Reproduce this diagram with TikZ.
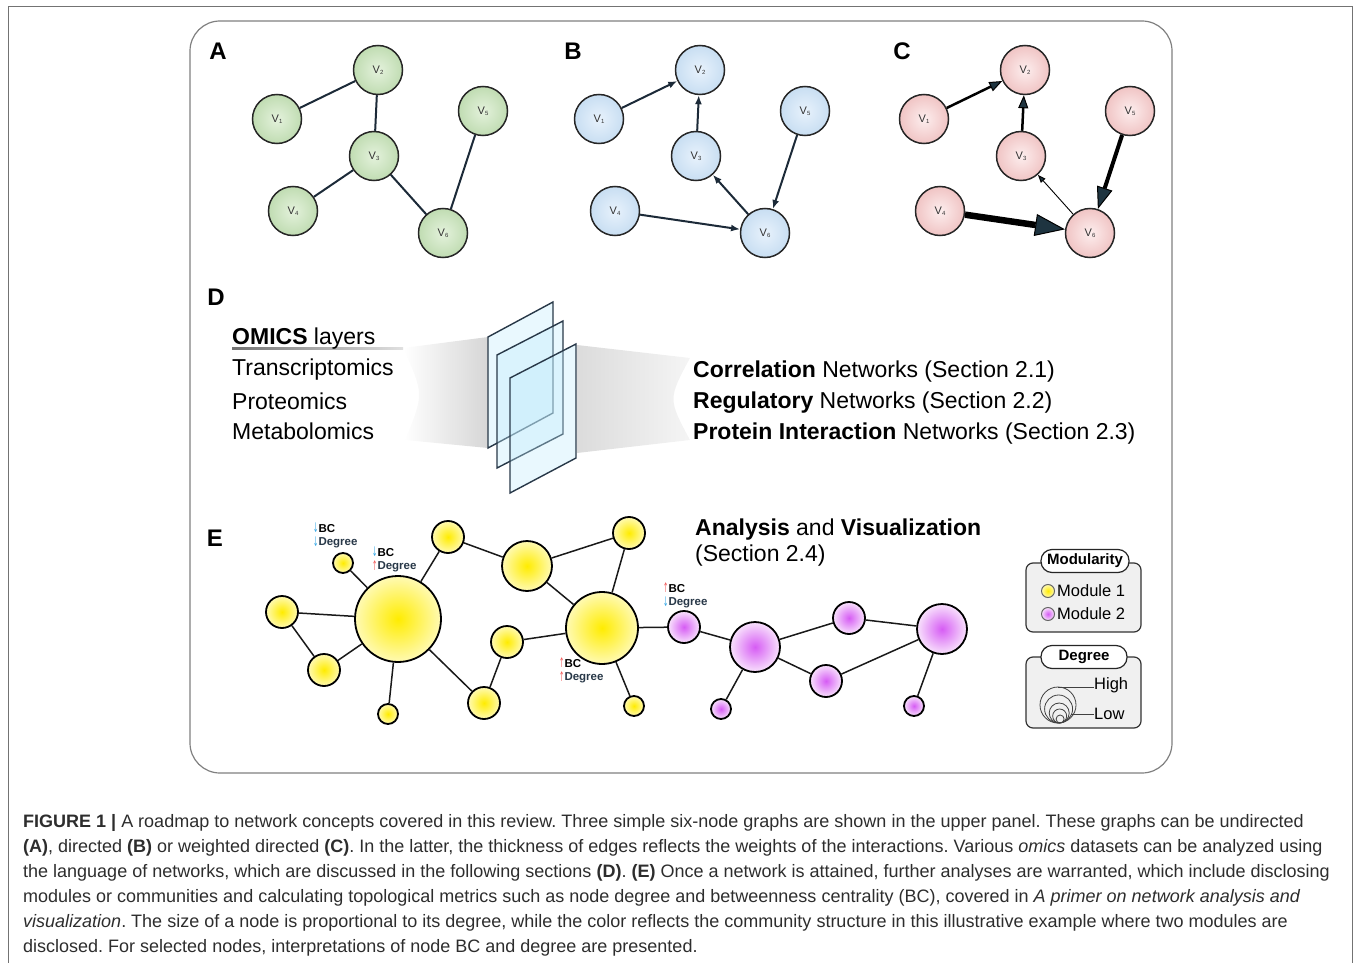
\documentclass[tikz,border=0pt]{standalone}
\usepackage{fontspec}
\setmainfont{Liberation Sans}
\newfontfamily\arrowfont{DejaVu Sans}
\usepackage{xcolor}
\usetikzlibrary{arrows.meta}
\frenchspacing

\definecolor{grnin}{RGB}{228,242,220}
\definecolor{grnout}{RGB}{192,220,178}
\definecolor{bluin}{RGB}{232,242,252}
\definecolor{bluout}{RGB}{200,222,242}
\definecolor{redin}{RGB}{253,238,238}
\definecolor{redout}{RGB}{240,196,196}
\definecolor{yelin}{RGB}{255,236,0}
\definecolor{yelout}{RGB}{255,250,180}
\definecolor{purin}{RGB}{214,92,244}
\definecolor{purout}{RGB}{248,226,252}
\definecolor{edgec}{RGB}{28,42,56}
\definecolor{headc}{RGB}{30,52,64}
\definecolor{slate}{RGB}{40,56,72}
\definecolor{bcred}{RGB}{240,90,90}
\definecolor{bcblue}{RGB}{60,170,230}
\definecolor{capc}{RGB}{45,45,45}

\newcommand{\vlab}[1]{V{\fontsize{6}{6}\selectfont\raisebox{-1.5pt}{#1}}}
\newcommand{\uparr}{\textcolor{bcred}{\raisebox{-0.5pt}{\scalebox{0.55}[1.15]{\arrowfont\mdseries\char"2191}}}}
\newcommand{\dnarr}{\textcolor{bcblue}{\raisebox{-0.5pt}{\scalebox{0.55}[1.15]{\arrowfont\mdseries\char"2193}}}}

\tikzset{
	plabel/.style={font=\fontsize{24}{24}\selectfont\bfseries, inner sep=0pt},
	vnode/.style={circle, draw=black!85, line width=1.5pt, minimum size=49pt, inner sep=0pt, shading=radial, text=black!80, font=\fontsize{11}{11}\selectfont},
	uedge/.style={draw=edgec, line width=2pt},
	dedge/.style={draw=edgec, line width=2pt, -{Latex[length=9pt,width=7pt]}},
	wtip/.style 2 args={draw=black, -{Triangle[length=#1,width=#2,line width=1pt,fill=headc]}},
	bignode/.style={circle, draw=black, line width=1.8pt, inner sep=0pt, shading=radial, minimum size=#1},
	ynode/.style={bignode=#1, inner color=yelin, outer color=yelout},
	pnode/.style={bignode=#1, inner color=purin, outer color=purout},
	eedge/.style={draw=black!90, line width=1.5pt},
	bclabel/.style={align=left, inner sep=0pt, anchor=north west, font=\fontsize{11.5}{13.5}\selectfont\bfseries},
	omics/.style={anchor=west, inner sep=0pt, font=\fontsize{23}{23}\selectfont},
	plane/.style={draw=slate, line width=1.4pt, fill=cyan!25, fill opacity=0.35},
	legbox/.style={draw=black!80, line width=1.2pt, fill=black!6, rounded corners=7pt},
	pill/.style={draw=black!85, line width=1.2pt, fill=white, rounded corners=11pt, minimum height=23pt, inner sep=0pt, font=\fontsize{15}{15}\selectfont\bfseries},
	legtext/.style={anchor=west, inner sep=0pt, font=\fontsize{16.5}{16.5}\selectfont},
	captext/.style={anchor=base west, inner sep=0pt, text=capc, font=\fontsize{18}{18}\selectfont}
}

\begin{document}
\begin{tikzpicture}[x=1pt, y=-1pt]
	\useasboundingbox (0,0) rectangle (1355,963);
	\draw[black!55, line width=1pt] (8,963) -- (8,7) -- (1352,7) -- (1352,963);
	\draw[black!50, line width=1.2pt, rounded corners=30pt] (190,21) rectangle (1172,773);

	% graphs A, B, C
	\node[plabel] (la) at (218,51) {A};
	\node[plabel] (lb) at (573,51) {B};
	\node[plabel] (lc) at (902,51) {C};
	\foreach \p/\dx/\cin/\cout in {a/0/grnin/grnout, b/322/bluin/bluout, c/647/redin/redout}{
		\foreach \i/\x/\y in {1/277/119, 2/378/70, 3/374/156, 4/293/211, 5/483/111, 6/443/233}
			\node[vnode, inner color=\cin, outer color=\cout] (\p\i) at (\x+\dx,\y) {\vlab{\i}};
	}
	\foreach \s/\t in {1/2, 2/3, 3/4, 3/6, 5/6}
		\draw[uedge] (a\s) -- (a\t);
	\foreach \s/\t in {1/2, 3/2, 6/3, 5/6, 4/6}
		\draw[dedge] (b\s) -- (b\t);
	\draw[wtip={13pt}{10pt}, line width=2.5pt] (c1) -- (c2);
	\draw[wtip={13pt}{10pt}, line width=2.5pt] (c3) -- (c2);
	\draw[wtip={8pt}{6pt}, line width=0.9pt] (c6) -- (c3);
	\draw[wtip={22pt}{16pt}, line width=4pt] (c5) -- (c6);
	\draw[wtip={30pt}{22pt}, line width=6.5pt] (c4) -- (c6);

	% D
	\node[plabel] (ld) at (216,297) {D};
	\shade[left color=white, right color=black!16] (403,348) -- (488,337) -- (488,448) -- (405,440) .. controls (424,394) .. (403,348) -- cycle;
	\shade[left color=black!14, right color=black!4] (577,345) -- (690,358) .. controls (668,399) .. (690,440) -- (577,453) -- cycle;
	\shade[left color=black!55, right color=black!12] (232,347.5) rectangle (403,349);
	\filldraw[plane] (488,337) -- (553,302) -- (553,413) -- (488,448) -- cycle;
	\filldraw[plane] (497,355) -- (563,321) -- (563,434) -- (497,468) -- cycle;
	\filldraw[plane] (510,378) -- (576,344) -- (576,458) -- (510,493) -- cycle;
	\node[omics] (om1) at (232,339) {\textbf{OMICS} layers};
	\node[omics] (om2) at (232,370) {Transcriptomics};
	\node[omics] (om3) at (232,401) {Proteomics};
	\node[omics] (om4) at (232,431) {Metabolomics};
	\node[omics] (nw1) at (693,372) {\textbf{Correlation} Networks (Section 2.1)};
	\node[omics] (nw2) at (693,403) {\textbf{Regulatory} Networks (Section 2.2)};
	\node[omics] (nw3) at (693,434) {\textbf{Protein Interaction} Networks (Section 2.3)};

	% E
	\node[plabel] (le) at (215,538) {E};
	\node[omics, anchor=north west, align=left, font=\fontsize{23}{26}\selectfont] (anv) at (695,519) {\textbf{Analysis} and \textbf{Visualization}\\(Section 2.4)};
	\foreach \n/\x/\y/\d in {y1/398/619/86, y2/602/628/72, y3/343/563/20, y4/282/612/32, y5/324/670/32, y6/388/714/20,
		y7/448/537/32, y8/527/566/50, y9/629/533/32, y10/507/642/32, y11/484/703/32, y12/634/706/20}
		\node[ynode=\d] (\n) at (\x,\y) {};
	\foreach \n/\x/\y/\d in {p1/684/627/32, p2/755/647/50, p3/849/618/32, p4/942/629/50, p5/826/681/32, p6/721/709/20, p7/914/706/20}
		\node[pnode=\d] (\n) at (\x,\y) {};
	\foreach \s/\t in {y3/y1, y4/y1, y4/y5, y5/y1, y6/y1, y1/y7, y1/y11, y7/y8, y8/y9, y8/y2, y9/y2, y10/y2, y10/y11, y2/y12, y2/p1,
		p1/p2, p2/p3, p3/p4, p2/p5, p5/p4, p2/p6, p4/p7}
		\draw[eedge] (\s) -- (\t);
	\node[bclabel] (bc1) at (313,523) {\dnarr BC\\\dnarr\textcolor{slate}{Degree}};
	\node[bclabel] (bc2) at (372,547) {\dnarr BC\\\uparr\textcolor{slate}{Degree}};
	\node[bclabel] (bc3) at (559,658) {\uparr BC\\\uparr\textcolor{slate}{Degree}};
	\node[bclabel] (bc4) at (663,583) {\uparr BC\\\dnarr\textcolor{slate}{Degree}};

	% legend
	\draw[legbox] (1026,563) rectangle (1141,632);
	\node[pill, minimum width=88pt] (modt) at (1085,561) {Modularity};
	\node[ynode=13pt, line width=1pt, draw=black!60] (m1) at (1048,591) {};
	\node[pnode=13pt, line width=1pt, draw=black!60] (m2) at (1048,614) {};
	\node[legtext] (m1t) at (1057,591) {Module 1};
	\node[legtext] (m2t) at (1057,614) {Module 2};
	\draw[legbox] (1026,657) rectangle (1141,728);
	\node[pill, minimum width=86pt] (degt) at (1084,657) {Degree};
	\foreach \r in {18,14,10,7,4}
		\draw[black!75, line width=0.8pt] (1058+0.15*18-0.15*\r,723-\r) circle (\r);
	\draw[black!75, line width=0.8pt] (1058,687) -- (1094,687);
	\draw[black!75, line width=0.8pt] (1071,714) -- (1094,714);
	\node[legtext] (hi) at (1094,685) {High};
	\node[legtext] (lo) at (1094,714) {Low};

	% caption
	\node[captext] (cap1) at (23,827) {\textbf{FIGURE 1 |} A roadmap to network concepts covered in this review. Three simple six-node graphs are shown in the upper panel. These graphs can be undirected};
	\node[captext] (cap2) at (23,852) {\textbf{(A)}, directed \textbf{(B)} or weighted directed \textbf{(C)}. In the latter, the thickness of edges reflects the weights of the interactions. Various \textit{omics} datasets can be analyzed using};
	\node[captext] (cap3) at (23,877) {the language of networks, which are discussed in the following sections \textbf{(D)}. \textbf{(E)} Once a network is attained, further analyses are warranted, which include disclosing};
	\node[captext] (cap4) at (23,902) {modules or communities and calculating topological metrics such as node degree and betweenness centrality (BC), covered in \textit{A primer on network analysis and}};
	\node[captext] (cap5) at (23,927) {\textit{visualization}. The size of a node is proportional to its degree, while the color reflects the community structure in this illustrative example where two modules are};
	\node[captext] (cap6) at (23,952) {disclosed. For selected nodes, interpretations of node BC and degree are presented.};
\end{tikzpicture}
\end{document}
